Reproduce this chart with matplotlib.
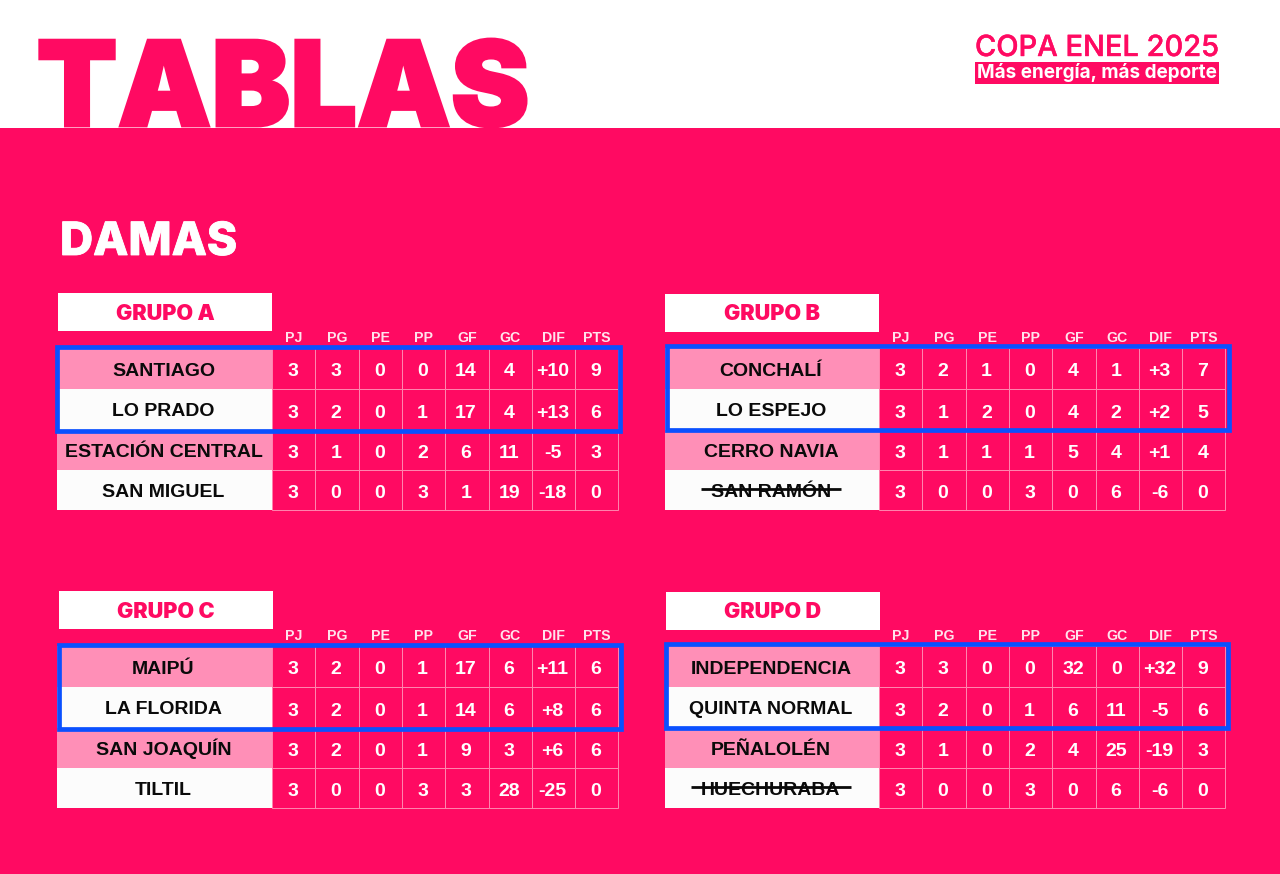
import matplotlib
matplotlib.use("Agg")
import matplotlib.pyplot as plt
from matplotlib.patches import Rectangle
import matplotlib.patheffects as pe

# ---------- data ----------
columns = ["PJ", "PG", "PE", "PP", "GF", "GC", "DIF", "PTS"]
group_names = ["GRUPO A", "GRUPO B", "GRUPO C", "GRUPO D"]

teams_a = ["SANTIAGO", "LO PRADO", "ESTACIÓN CENTRAL", "SAN MIGUEL"]
stats_a = [["3","3","0","0","14","4","+10","9"],
           ["3","2","0","1","17","4","+13","6"],
           ["3","1","0","2","6","11","-5","3"],
           ["3","0","0","3","1","19","-18","0"]]
teams_b = ["CONCHALÍ", "LO ESPEJO", "CERRO NAVIA", "SAN RAMÓN"]
stats_b = [["3","2","1","0","4","1","+3","7"],
           ["3","1","2","0","4","2","+2","5"],
           ["3","1","1","1","5","4","+1","4"],
           ["3","0","0","3","0","6","-6","0"]]
teams_c = ["MAIPÚ", "LA FLORIDA", "SAN JOAQUÍN", "TILTIL"]
stats_c = [["3","2","0","1","17","6","+11","6"],
           ["3","2","0","1","14","6","+8","6"],
           ["3","2","0","1","9","3","+6","6"],
           ["3","0","0","3","3","28","-25","0"]]
teams_d = ["INDEPENDENCIA", "QUINTA NORMAL", "PEÑALOLÉN", "HUECHURABA"]
stats_d = [["3","3","0","0","32","0","+32","9"],
           ["3","2","0","1","6","11","-5","6"],
           ["3","1","0","2","4","25","-19","3"],
           ["3","0","0","3","0","6","-6","0"]]
struck_teams = ["SAN RAMÓN", "HUECHURABA"]

all_teams = [teams_a, teams_b, teams_c, teams_d]
all_stats = [stats_a, stats_b, stats_c, stats_d]

# ---------- layout (pixels) ----------
PINK, LIGHT, OFFWHITE, BLUE = "#FF0A62", "#FF8FB7", "#FCFCFC", "#0A50FF"
GRID = "#FF86AF"
FONT = "Liberation Sans"
HEAVY = "Inter"
name_left = [57, 665, 57, 665]
col_left = [272, 879, 272, 879]
col_w = 43.3
row_edges = [[348, 389, 430, 470, 510], [348, 389, 430, 470, 510],
             [646, 687, 728, 768, 808], [646, 687, 728, 768, 808]]
title_box = [(58, 293), (665, 294), (59, 591), (666, 592)]
title_w, title_h = 214, 38
blue_box = [(57, 347, 563, 84), (667, 346, 562, 84), (59, 645, 562, 84), (666, 644, 562, 84)]

fig = plt.figure(figsize=(12.8, 8.74), dpi=100, facecolor="white")
ax = fig.add_axes([0, 0, 1, 1])
ax.set_xlim(0, 1280)
ax.set_ylim(874, 0)
ax.axis("off")

def heavy(w, color):
    return [pe.withStroke(linewidth=w, foreground=color, joinstyle="miter")]

# Title drawn first, then the panel cuts it at its bottom edge
ax.text(36.5, 126, "TABLAS", fontsize=85, family=HEAVY, weight=900, color=PINK,
        ha="left", va="baseline", path_effects=heavy(2, PINK), zorder=1)
ax.add_patch(Rectangle((0, 128), 1280, 746, fc=PINK, ec="none", zorder=2))

ax.text(975, 56, "COPA ENEL 2025", fontsize=20.9, family=HEAVY, weight="medium",
        color=PINK, ha="left", va="baseline", path_effects=heavy(0.3, PINK), zorder=3)
ax.add_patch(Rectangle((975, 61.5), 244, 22, fc=PINK, ec="none", zorder=3))
ax.text(1097, 77.5, "Más energía, más deporte", fontsize=13.6, family=HEAVY, weight="bold",
        color="white", ha="center", va="baseline", zorder=4)

ax.text(60, 255, "DAMAS", fontsize=33, family=HEAVY, weight=800, color="white",
        ha="left", va="baseline", path_effects=heavy(0.6, "white"), zorder=3)

renderer = fig.canvas.get_renderer()
inv = ax.transData.inverted()

for g, (gname, teams, stats) in enumerate(zip(group_names, all_teams, all_stats)):
    tx, ty = title_box[g]
    ax.add_patch(Rectangle((tx, ty), title_w, title_h, fc="white", ec="none", zorder=3))
    ax.text(tx + title_w / 2, ty + title_h / 2 + 7.5, gname, fontsize=15.6, family=HEAVY, weight=900,
            color=PINK, ha="center", va="baseline", zorder=4)
    edges = row_edges[g]
    cl = col_left[g]
    for c, col in enumerate(columns):
        ax.text(cl + (c + 0.5) * col_w, edges[0] - 6.5, col, fontsize=10.2, family=FONT,
                weight="bold", color="#FFE3EC", ha="center", va="baseline", zorder=4)
    for r, team in enumerate(teams):
        y0, y1 = edges[r], edges[r + 1]
        ym = (y0 + y1) / 2
        ax.add_patch(Rectangle((name_left[g], y0), cl - name_left[g], y1 - y0,
                               fc=LIGHT if r % 2 == 0 else OFFWHITE, ec="none", zorder=3))
        t = ax.text((name_left[g] + cl) / 2 - 1, ym + 7, team, fontsize=14, family=FONT,
                    weight="bold", color="#0A0A0A", ha="center", va="baseline", zorder=4)
        if team in struck_teams:
            bb = t.get_window_extent(renderer).transformed(inv)
            ax.plot([bb.x0 - 10, bb.x1 + 10], [ym - 1] * 2, color="#0A0A0A",
                    lw=2.0, solid_capstyle="butt", zorder=5)
        for c, val in enumerate(stats[r]):
            x0 = cl + c * col_w
            ax.add_patch(Rectangle((x0, y0), col_w, y1 - y0, fc="none", ec=GRID, lw=0.7, zorder=3))
            ax.text(x0 + col_w / 2 - 1, ym + 8, val, fontsize=14, family=FONT,
                    weight="bold", color="white", ha="center", va="baseline", zorder=4)
    bx, by, bw, bh = blue_box[g]
    ax.add_patch(Rectangle((bx, by), bw, bh, fc="none", ec=BLUE, lw=3.4, zorder=6))

fig.savefig("out.png", dpi=100, facecolor="white")
